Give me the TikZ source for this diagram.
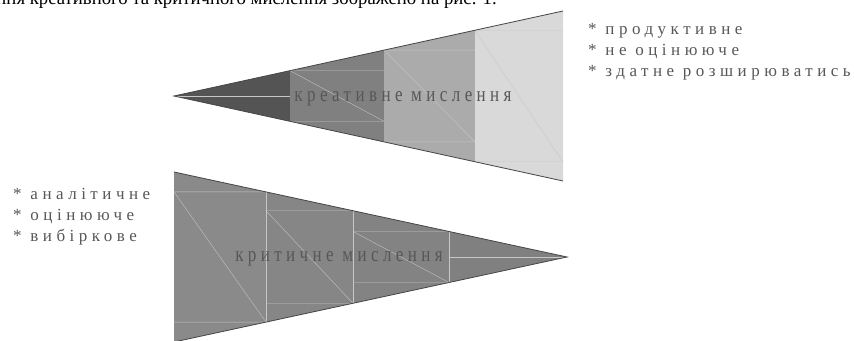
\documentclass[tikz,border=0pt]{standalone}
\usepackage{fontspec}
\setmainfont{Liberation Serif}
\newfontfamily\spaced[LetterSpace=26.5]{Liberation Serif}
\newfontfamily\spacedmid[LetterSpace=26]{Liberation Serif}
\usetikzlibrary{positioning}

\begin{document}
\begin{tikzpicture}[x=0.03cm, y=-0.03cm,
    label/.style={font=\spacedmid\fontsize{14.5}{18}\selectfont, text=black!66, inner sep=0pt},
    props/.style={label, font=\spaced\fontsize{14.5}{18}\selectfont, align=left, anchor=base west},
    seam/.style={draw=white!78!black, line width=0.3pt},
    rim/.style={draw=black!72, line width=0.7pt}]
    \useasboundingbox (0,0) rectangle (854,341);
    \clip (0,0) rectangle (854,341);

    % Line of running text, cut at the top
    \node [font=\fontsize{16}{18}\selectfont, inner sep=0pt, anchor=base east]
        (caption) at (497,5) {ння креативного та критичного мислення зображено на рис. 1.};

    % Creative funnel {x0, x1, top(x0), bot(x0), top(x1), bot(x1), grey}
    \foreach \xa/\xb/\ta/\ba/\tb/\bb/\g in {174/290/96/96/70.7/121.3/33,
                                             290/384/70.7/121.3/50.1/141.9/50,
                                             384/475/50.1/141.9/30.2/161.8/67,
                                             475/563/30.2/161.8/11/181/85}
    {
        \fill [white!\g!black] (\xa,\ta) -- (\xb,\tb) -- (\xb,\bb) -- (\xa,\ba) -- cycle;
        \path [seam] (\xa,\ta) -- (\xb,\ta) (\xa,\ba) -- (\xb,\ba) (\xa,\ta) -- (\xb,\ba);
    }
    \path [rim] (563,11) -- (174,96) -- (563,181);

    % Critical funnel {x0, x1, top(x1), bot(x1), top(x0), bot(x0), grey}
    \foreach \xa/\xb/\tb/\bb/\ta/\ba/\g in {174/266/191.9/322.1/172/342/54,
                                             266/353/210.7/303.3/191.9/322.1/52.5,
                                             353/449/231.5/282.5/210.7/303.3/51.5,
                                             449/567/257/257/231.5/282.5/50}
    {
        \fill [white!\g!black] (\xa,\ta) -- (\xb,\tb) -- (\xb,\bb) -- (\xa,\ba) -- cycle;
        \path [seam] (\xa,\tb) -- (\xb,\tb) (\xa,\bb) -- (\xb,\bb) (\xa,\tb) -- (\xb,\bb);
    }
    \path [seam] (266,191.9) -- (266,322.1) (353,210.7) -- (353,303.3) (449,231.5) -- (449,282.5);
    \path [rim] (174,172) -- (567,257) -- (174,342);

    % Labels (drawn a little taller, as in the figure)
    \node [label, anchor=base] (creative) at (403,102) {\scalebox{1}[1.25]{креативне мислення}};
    \node [label, anchor=base] (critical) at (339,262) {\scalebox{1}[1.25]{критичне мислення}};

    \node [props] (creativeprops) at (588,77)
        {* продуктивне\\* не оцінююче\\* здатне розширюватись};
    \node [props] (criticalprops) at (13,242)
        {* аналітичне\\* оцінююче\\* вибіркове};
\end{tikzpicture}
\end{document}
